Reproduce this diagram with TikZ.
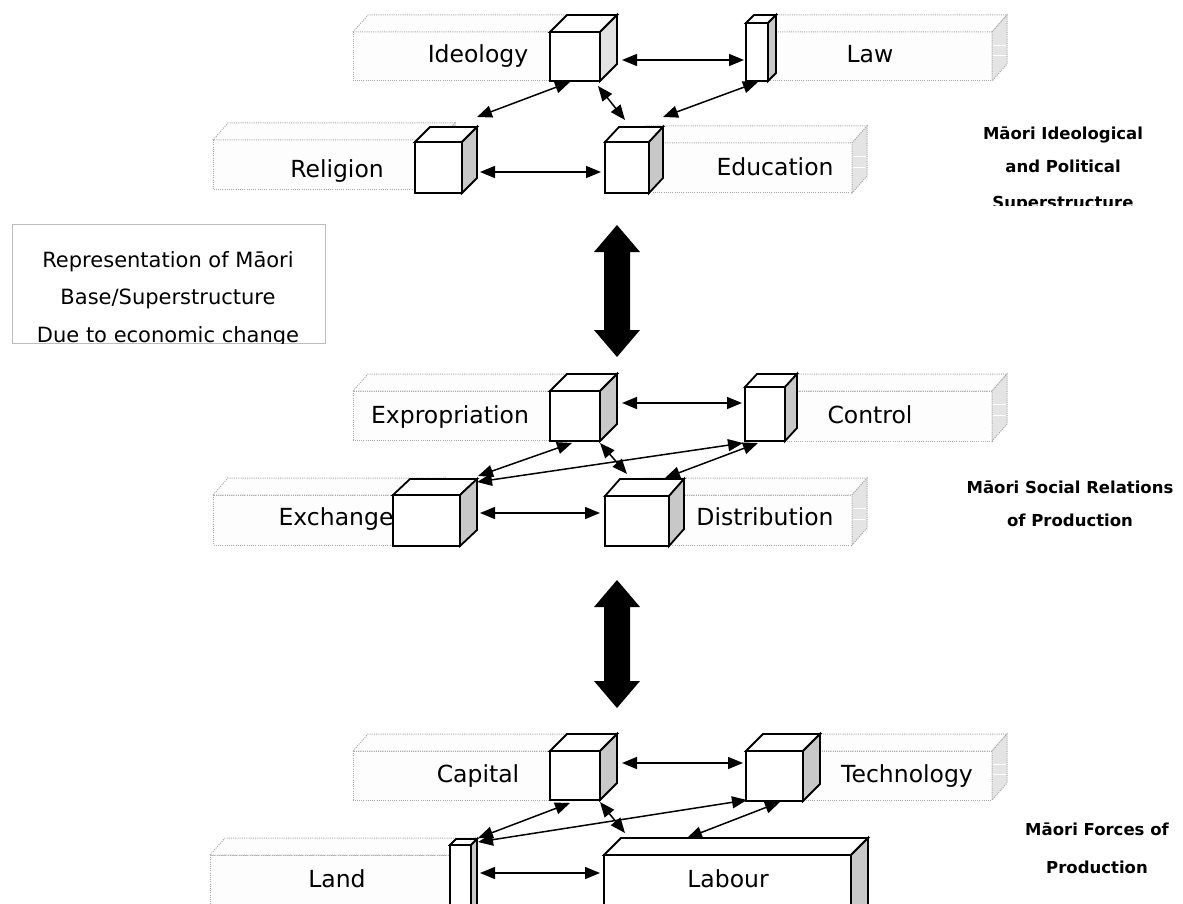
\documentclass[tikz,border=0pt]{standalone}
\usepackage{fontspec}
\setmainfont{DejaVu Sans}
\usetikzlibrary{arrows.meta}
\definecolor{slabgray}{HTML}{A8A8A8}
\definecolor{slabfront}{HTML}{FDFDFD}
\definecolor{slabend}{HTML}{E4E4E4}
\definecolor{cubeside}{HTML}{C8C8C8}
\definecolor{cubesidelight}{HTML}{E2E2E2}
\definecolor{boxgray}{HTML}{BDBDBD}
\tikzset{
  slabline/.style={draw=slabgray, line width=1pt, dash pattern=on 1pt off 1.2pt},
  cubeline/.style={draw=black, line width=1.8pt, line join=miter},
  conn/.style={line width=1.5pt, {Triangle[length=15pt,width=12pt]}-{Triangle[length=15pt,width=12pt]}},
  lbl/.style={anchor=base, font=\fontsize{23.5}{27}\selectfont, inner sep=0pt},
  sidelbl/.style={anchor=base, font=\fontsize{16.5}{20}\selectfont\bfseries, inner sep=0pt},
  boxtxt/.style={anchor=base, font=\fontsize{21}{25}\selectfont, inner sep=0pt},
  bigarrow/.style={fill=black, draw=none}
}
% slab: x1,y1,x2,y2 of front face
\newcommand{\myslab}[4]{%
  \filldraw[slabline, fill=slabfront] (#1,#2) rectangle (#3,#4);
  \filldraw[slabline, fill=slabfront] (#1,#2) -- (#1+15,#2-17) -- (#3+15,#2-17) -- (#3,#2) -- cycle;
  \filldraw[slabline, fill=slabend] (#3,#2) -- (#3+15,#2-17) -- (#3+15,#4-17) -- (#3,#4) -- cycle;
  \draw[white, line width=0.8pt] (#3+1,{#2+(#4-#2)/3-3}) -- (#3+14,{#2+(#4-#2)/3-3});
  \draw[white, line width=0.8pt] (#3+1,{#2+2*(#4-#2)/3-9}) -- (#3+14,{#2+2*(#4-#2)/3-9});
}
% cube: x1,y1,x2,y2 of front face, dx, dy (up), side colour
\newcommand{\mycube}[7]{%
  \filldraw[cubeline, fill=white] (#1,#2) rectangle (#3,#4);
  \filldraw[cubeline, fill=white] (#1,#2) -- (#1+#5,#2-#6) -- (#3+#5,#2-#6) -- (#3,#2) -- cycle;
  \filldraw[cubeline, fill=#7] (#3,#2) -- (#3+#5,#2-#6) -- (#3+#5,#4-#6) -- (#3,#4) -- cycle;
}
\begin{document}
\begin{tikzpicture}[x=1pt,y=-1pt]
\clip (0,0) rectangle (1183,904);
\fill[white] (0,0) rectangle (1183,904);

% ---------- slabs ----------
\myslab{353}{32}{562}{81}
\myslab{760}{32}{992}{81}
\myslab{213}{140}{440}{190}
\myslab{630}{143}{852}{193}
\myslab{353}{391}{570}{440}
\myslab{760}{391}{992}{441}
\myslab{213}{495}{430}{545}
\myslab{630}{495}{852}{545}
\myslab{353}{751}{570}{800}
\myslab{760}{751}{992}{800}
\myslab{210}{855}{460}{930}

% ---------- slab labels ----------
\node[lbl] (tIdeo) at (478,63) {Ideology};
\node[lbl] (tLaw) at (870,63) {Law};
\node[lbl] (tRel) at (337,178) {Religion};
\node[lbl] (tEdu) at (775,176) {Education};
\node[lbl] (tExp) at (450,423) {Expropriation};
\node[lbl] (tCon) at (870,423) {Control};
\node[lbl] (tExc) at (336,525) {Exchange};
\node[lbl] (tDis) at (765,525) {Distribution};
\node[lbl] (tCap) at (478,782) {Capital};
\node[lbl] (tTec) at (907,782) {Technology};
\node[lbl] (tLan) at (337,887) {Land};

% ---------- cubes ----------
\mycube{550}{32}{600}{81}{17}{17}{cubesidelight}
\mycube{746}{23}{768}{81}{8}{8}{cubeside}
\mycube{415}{142}{462}{193}{15}{15}{cubeside}
\mycube{605}{142}{649}{193}{14}{15}{cubeside}
\mycube{550}{391}{600}{441}{17}{17}{cubeside}
\mycube{745}{387}{785}{441}{12}{13}{cubeside}
\mycube{393}{495}{460}{546}{17}{16}{cubeside}
\mycube{605}{496}{669}{546}{15}{17}{cubeside}
\mycube{550}{751}{600}{800}{17}{17}{cubeside}
\mycube{746}{751}{803}{801}{17}{17}{cubeside}
\mycube{450}{845}{471}{930}{6}{6}{cubeside}
\mycube{604}{855}{851}{930}{17}{17}{cubeside}
\node[lbl] (tLab) at (728,887) {Labour};

% ---------- connector end points ----------
\coordinate (ideoL) at (622,60);   \coordinate (lawI) at (744,60);
\coordinate (ideoR) at (570,82);   \coordinate (relI) at (477,117);
\coordinate (ideoE) at (598,86);   \coordinate (eduI) at (625,120);
\coordinate (lawE) at (758,82);    \coordinate (eduL) at (663,117);
\coordinate (relE) at (480,172);   \coordinate (eduR) at (601,172);

\coordinate (expC) at (622,403);   \coordinate (conE) at (742,403);
\coordinate (expX) at (572,443);   \coordinate (excE) at (478,476);
\coordinate (expD) at (600,443);   \coordinate (disE) at (627,474);
\coordinate (conX) at (743,443);   \coordinate (excC) at (477,482);
\coordinate (conD) at (758,443);   \coordinate (disC) at (665,478);
\coordinate (excD) at (480,513);   \coordinate (disX) at (600,513);

\coordinate (capT) at (622,763);   \coordinate (tecC) at (743,763);
\coordinate (capL) at (570,803);   \coordinate (lanC) at (478,838);
\coordinate (capB) at (600,802);   \coordinate (labC) at (625,833);
\coordinate (tecL) at (747,800);   \coordinate (lanT) at (478,842);
\coordinate (tecB) at (780,802);   \coordinate (labT) at (687,838);
\coordinate (lanB) at (480,873);   \coordinate (labL) at (600,873);

% ---------- connectors ----------
\draw[conn] (ideoL) -- (lawI);
\draw[conn] (ideoR) -- (relI);
\draw[conn] (ideoE) -- (eduI);
\draw[conn] (lawE) -- (eduL);
\draw[conn] (relE) -- (eduR);

\draw[conn] (expC) -- (conE);
\draw[conn] (expX) -- (excE);
\draw[conn] (expD) -- (disE);
\draw[conn] (conX) -- (excC);
\draw[conn] (conD) -- (disC);
\draw[conn] (excD) -- (disX);

\draw[conn] (capT) -- (tecC);
\draw[conn] (capL) -- (lanC);
\draw[conn] (capB) -- (labC);
\draw[conn] (tecL) -- (lanT);
\draw[conn] (tecB) -- (labT);
\draw[conn] (lanB) -- (labL);

% ---------- big double arrows ----------
\fill[bigarrow] (617,225) -- (640,252) -- (630,252) -- (630,330) -- (640,330) -- (617,357)
  -- (594,330) -- (604,330) -- (604,252) -- (594,252) -- cycle;
\fill[bigarrow] (617,580) -- (640,607) -- (630,607) -- (630,681) -- (640,681) -- (617,708)
  -- (594,681) -- (604,681) -- (604,607) -- (594,607) -- cycle;

% ---------- left legend box ----------
\draw[boxgray, line width=1pt] (12,225) rectangle (325,343);
\begin{scope}
\clip (12,225) rectangle (325,343);
\node[boxtxt] (b1) at (168,267) {Representation of Māori};
\node[boxtxt] (b2) at (168,304) {Base/Superstructure};
\node[boxtxt] (b3) at (168,342) {Due to economic change};
\end{scope}

% ---------- side captions ----------
\node[sidelbl] (s1) at (1063,140) {Māori Ideological};
\node[sidelbl] (s2) at (1063,173) {and Political};
\begin{scope}
\clip (950,180) rectangle (1183,206);
\node[sidelbl] (s3) at (1063,209) {Superstructure};
\end{scope}
\node[sidelbl] (s4) at (1070,493) {Māori Social Relations};
\node[sidelbl] (s5) at (1070,526) {of Production};
\node[sidelbl] (s6) at (1097,835) {Māori Forces of};
\node[sidelbl] (s7) at (1097,873) {Production};
\end{tikzpicture}
\end{document}
